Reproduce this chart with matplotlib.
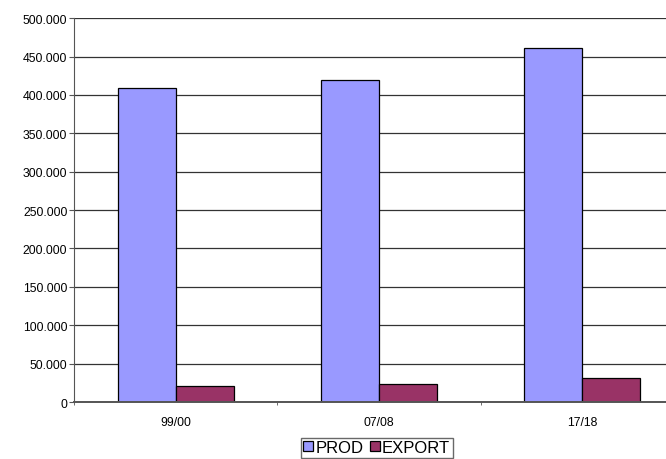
import numpy as np
import matplotlib
matplotlib.use("Agg")
import matplotlib.pyplot as plt
from matplotlib.ticker import FuncFormatter

plt.rcParams["font.family"] = ["Liberation Sans", "DejaVu Sans"]

# data
seasons = ["99/00", "07/08", "17/18"]
prod = [409000, 420000, 461000]
export = [20400, 24000, 30900]

W, H = 666, 460
fig = plt.figure(figsize=(W / 100, H / 100), dpi=100)
# plot area: left 74px, right edge runs past the image (chart is cropped)
ax = fig.add_axes([74 / W, 1 - 403 / H, (684 - 74) / W, (403 - 19.2) / H])

x = np.arange(len(seasons))
bw = 0.286
ax.bar(x - bw / 2, prod, bw, color="#9999FF", edgecolor="black", linewidth=0.9, label="PROD", zorder=3)
ax.bar(x + bw / 2, export, bw, color="#993366", edgecolor="black", linewidth=0.9, label="EXPORT", zorder=3)

ax.set_xlim(-0.5, len(seasons) - 0.5)
ax.set_ylim(0, 500000)
ax.set_yticks(np.arange(0, 500001, 50000))
ax.yaxis.set_major_formatter(FuncFormatter(lambda v, p: "0" if v == 0 else f"{int(v):,}".replace(",", ".")))
ax.yaxis.grid(True, color="#333333", linewidth=0.9, zorder=0)

ax.set_xticks(x)
ax.set_xticklabels(seasons)
ax.set_xticks(np.arange(-0.5, len(seasons) + 0.5, 1), minor=True)
ax.tick_params(axis="x", which="major", length=0, pad=10, labelsize=8.8)
ax.tick_params(axis="x", which="minor", length=2.5, color="#555555", direction="out")
ax.tick_params(axis="y", length=3.8, color="#555555", labelsize=8.8, pad=1)

for s in ["top", "right"]:
    ax.spines[s].set_visible(False)
ax.spines["left"].set_color("#555555")
ax.spines["bottom"].set_color("#555555")
ax.spines["bottom"].set_linewidth(1.4)
ax.spines["bottom"].set_zorder(4)

leg = fig.legend(loc="upper left", bbox_to_anchor=(300.7 / W, 1 - 438.5 / H), ncol=2,
                 fontsize=12, frameon=True, fancybox=False, edgecolor="#444444",
                 handlelength=0.6, handleheight=0.6, handletextpad=0.15, columnspacing=0.35,
                 borderpad=0.15, borderaxespad=0)
leg.get_frame().set_linewidth(1.0)

fig.savefig("out.png", dpi=100)
